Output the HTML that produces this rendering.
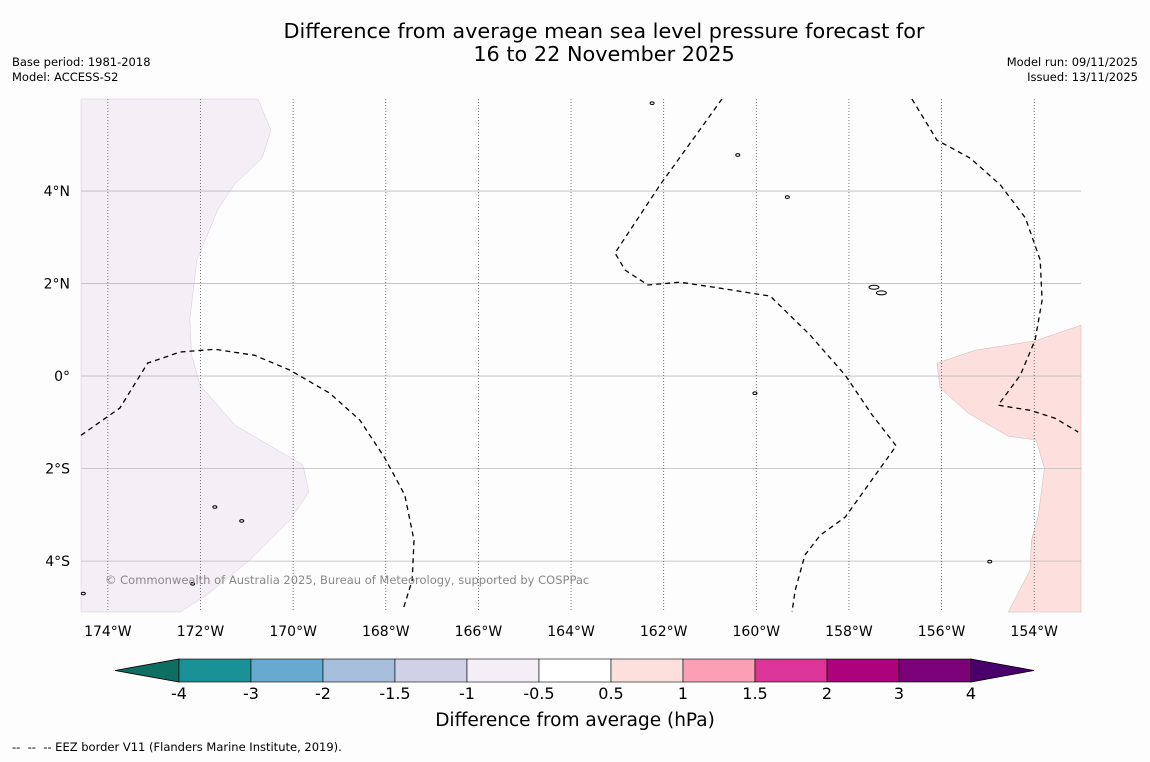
<!DOCTYPE html>
<html><head><meta charset="utf-8"><style>
html,body{margin:0;padding:0;background:#fdfdfd;}
body{width:1150px;height:758px;overflow:hidden;font-family:"DejaVu Sans","Liberation Sans",sans-serif;}
</style></head><body>
<svg id="chart" width="1150" height="758" xmlns="http://www.w3.org/2000/svg" font-family="DejaVu Sans, Liberation Sans, sans-serif">
<rect width="1150" height="758" fill="#fdfdfd"/>
<text x="604" y="38" font-size="20.8" text-anchor="middle">Difference from average mean sea level pressure forecast for</text>
<text x="604" y="61" font-size="20.8" text-anchor="middle">16 to 22 November 2025</text>
<text x="12" y="66" font-size="11.5">Base period: 1981-2018</text>
<text x="12" y="81" font-size="11.5">Model: ACCESS-S2</text>
<text x="1138" y="66" font-size="11.5" text-anchor="end">Model run: 09/11/2025</text>
<text x="1138" y="81" font-size="11.5" text-anchor="end">Issued: 13/11/2025</text>
<g id="map"></g>
<g id="cbar"></g>
<text x="575" y="726" font-size="18.5" text-anchor="middle">Difference from average (hPa)</text>
<text x="12" y="751" font-size="11.5" xml:space="preserve" style="white-space:pre">--  --  -- EEZ border V11 (Flanders Marine Institute, 2019).</text>
</svg>
<script>
const lonTicks=[-174,-172,-170,-168,-166,-164,-162,-160,-158,-156,-154];
const latTicks=[4,2,0,-2,-4];
const lonMin=-174.58, lonMax=-152.99, latMin=-5.10, latMax=5.99;
const purpleLon=[-174.58,-170.76,-170.48,-170.67,-171.26,-171.62,-172.08,-172.23,-172.19,-172.01,-171.26,-169.79,-169.66,-170.07,-170.93,-171.86,-172.44,-174.58];
const purpleLat=[5.99,5.99,5.32,4.71,4.15,3.61,2.50,1.21,0.45,-0.19,-1.06,-1.92,-2.51,-3.11,-3.97,-4.73,-5.10,-5.10];
const pinkLon=[-152.99,-153.98,-155.27,-156.10,-156.03,-155.43,-154.56,-153.96,-153.78,-153.91,-154.06,-154.09,-154.56,-152.99];
const pinkLat=[1.10,0.76,0.56,0.28,-0.26,-0.80,-1.30,-1.38,-1.99,-3.01,-3.55,-4.19,-5.10,-5.10];
const eezALon=[-174.58,-173.74,-173.14,-172.44,-171.69,-170.83,-170.07,-169.21,-168.56,-168.02,-167.59,-167.39,-167.43,-167.63];
const eezALat=[-1.28,-0.69,0.28,0.52,0.58,0.45,0.13,-0.37,-0.95,-1.77,-2.57,-3.55,-4.41,-5.06];
const eezBLon=[-160.74,-162.08,-163.05,-162.83,-162.34,-161.65,-160.78,-159.70,-158.84,-158.08,-157.50,-156.98,-157.43,-158.08,-158.62,-158.95,-159.16,-159.23];
const eezBLat=[5.99,4.13,2.66,2.29,1.97,2.03,1.90,1.73,0.89,0.02,-0.84,-1.51,-2.14,-3.05,-3.44,-3.87,-4.63,-5.10];
const eezCLon=[-156.64,-156.10,-155.38,-154.73,-154.19,-153.87,-153.83,-153.98,-154.30,-154.78,-154.09,-153.55,-153.05];
const eezCLat=[5.99,5.10,4.71,4.13,3.42,2.51,1.64,0.78,0.02,-0.63,-0.74,-0.91,-1.21];
const islandLon=[-157.46,-157.30,-159.33,-160.40,-162.25,-171.69,-171.11,-172.17,-154.96,-160.03,-174.53];
const islandLat=[1.92,1.80,3.87,4.78,5.90,-2.83,-3.13,-4.49,-4.01,-0.37,-4.70];
const levels=["-4","-3","-2","-1.5","-1","-0.5","0.5","1","1.5","2","3","4"];
const colors=["#1a9097","#67a9cf","#a6bddb","#d0d1e6","#f4eef6","#ffffff","#fde0dd","#fa9fb5","#dd3497","#ae017e","#7a0177"];
const lowColor="#0e6e62", highColor="#49006a";

const NS="http://www.w3.org/2000/svg";
const px0=81, px1=1081, py0=99, py1=612;
function X(lon){return px0+(lon-lonMin)/(lonMax-lonMin)*(px1-px0);}
function Y(lat){return py0+(latMax-lat)/(latMax-latMin)*(py1-py0);}
function mk(tag,attrs,parent){const e=document.createElementNS(NS,tag);for(const k in attrs)e.setAttribute(k,attrs[k]);parent.appendChild(e);return e;}
function pts(lons,lats){return lons.map((l,i)=>X(l).toFixed(1)+","+Y(lats[i]).toFixed(1)).join(" ");}
const map=document.getElementById('map');
let e;
e=mk('polygon',{points:pts(purpleLon,purpleLat),fill:'#f4eef6',stroke:'#d8c8dc','stroke-width':0.5},map);


e=mk('polygon',{points:pts(pinkLon,pinkLat),fill:'#fde0dd',stroke:'#d8b0b0','stroke-width':0.5},map);


latTicks.forEach(t=>{
 e=mk('line',{x1:px0,x2:px1,y1:Y(t),y2:Y(t),stroke:'#bbbbbb','stroke-width':0.8},map);
 
 
 e=mk('text',{x:70,y:Y(t)+5,'font-size':14,'text-anchor':'end'},map);
 e.textContent=t===0?'0°':Math.abs(t)+'°'+(t>0?'N':'S');
 
 
});
lonTicks.forEach(t=>{
 e=mk('line',{x1:X(t),x2:X(t),y1:py0,y2:py1,stroke:'#555','stroke-width':0.8,'stroke-dasharray':'1,2'},map);
 
 
 e=mk('text',{x:X(t),y:636,'font-size':14,'text-anchor':'middle'},map);
 e.textContent=Math.abs(t)+'°W';
 
 
});
[[eezALon,eezALat],[eezBLon,eezBLat],[eezCLon,eezCLat]].forEach(p=>{
 e=mk('polyline',{points:pts(p[0],p[1]),fill:'none',stroke:'#000','stroke-width':1.3,'stroke-dasharray':'5,4'},map);
 
 
});
islandLon.forEach((l,i)=>{
 e=mk('ellipse',{cx:X(l),cy:Y(islandLat[i]),rx:i<2?5:2,ry:i<2?2:1.3,fill:'none',stroke:'#000','stroke-width':1},map);
 
 
});
e=mk('text',{x:105,y:584,'font-size':11.5,fill:'#888'},map);
e.textContent='© Commonwealth of Australia 2025, Bureau of Meteorology, supported by COSPPac';



const cb=document.getElementById('cbar');
const cx0=179, cw=72, cy0=659, ch=23;
e=mk('polygon',{points:`115,${cy0+ch/2} ${cx0},${cy0} ${cx0},${cy0+ch}`,fill:lowColor,stroke:'#000','stroke-width':0.8},cb);


colors.forEach((c,i)=>{
 e=mk('rect',{x:cx0+i*cw,y:cy0,width:cw,height:ch,fill:c,stroke:'#000','stroke-width':0.6},cb);
 
 
});
const cx1=cx0+colors.length*cw;
e=mk('polygon',{points:`${cx1},${cy0} ${cx1+63},${cy0+ch/2} ${cx1},${cy0+ch}`,fill:highColor,stroke:'#000','stroke-width':0.8},cb);


levels.forEach((l,i)=>{
 e=mk('text',{x:cx0+i*cw,y:699,'font-size':16,'text-anchor':'middle'},cb);
 e.textContent=l;
 
 
});
</script>
</body></html>
